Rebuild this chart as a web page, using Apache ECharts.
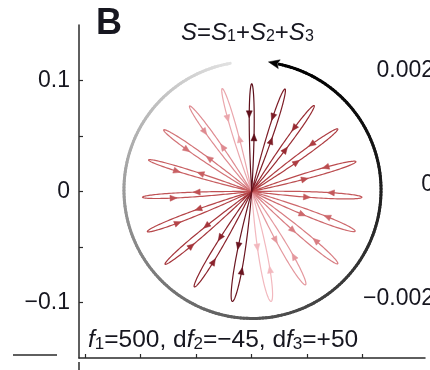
<!DOCTYPE html>
<html>
<head>
<meta charset="utf-8">
<script src="https://cdn.jsdelivr.net/npm/echarts@6/dist/echarts.min.js"></script>
<style>
  html, body { margin: 0; padding: 0; background: #fff; }
  #chart { width: 430px; height: 370px; }
</style>
</head>
<body>
<div id="chart"></div>
<script>
// Petal loops of S = S1+S2+S3, in the order they are traced (earliest first).
// Direction of each loop (deg), its reach from the origin and its widest width.
const petalAngles  = [280, 106, 300, 126, 320, 145, 339, 163, 357, 183, 16, 201, 36, 220, 54, 239, 72, 260, 90];
const petalLengths = [0.1005, 0.0965, 0.0970, 0.0952, 0.1012, 0.0968, 0.0998, 0.0972, 0.0994, 0.0985,
                      0.0976, 0.1007, 0.0958, 0.1019, 0.0957, 0.1003, 0.0971, 0.1005, 0.0970];
const petalWidths  = [0.0081, 0.0054, 0.0072, 0.0054, 0.0063, 0.0054, 0.0063, 0.0045, 0.0054, 0.0045,
                      0.0054, 0.0054, 0.0054, 0.0054, 0.0054, 0.0063, 0.0054, 0.0072, 0.0045];

// Envelope circle traced with the time arrow (start and end angle, deg)
const circleCenter = [0.0007, 0.0014];
const circleRadius = 0.1158;
const circleArcDeg = [100, 438];

// Axis ticks and labels
const xTicks = [-0.15, -0.1, -0.05, 0, 0.05, 0.1];
const yTicks = [-0.1, -0.05, 0, 0.05, 0.1];
const yLabels = [-0.1, 0, 0.1];
const rightLabels = [-0.002, 0, 0.002];

// ---- styles ----
const petalColors = ['#f2b8be', '#eaa6ac', '#e4989e', '#de8a90', '#d87d82', '#d27276', '#cd686c',
                     '#c85f62', '#c4585b', '#bf5255', '#bb4c4f', '#b54548', '#ae3d42', '#a5353b',
                     '#992c33', '#8a232c', '#7d1d27', '#6a1520', '#5e0f1a'];
const FONT = '"Liberation Sans", Arial, Helvetica, sans-serif';
const INK = '#16161f';
const AXIS = '#2a2a2a';

function fmt(v) {
  if (v === 0) return '0';
  return (v < 0 ? '\u2212' : '') + String(Math.abs(v));
}

// Outline of one loop: leaves the origin on one side, turns at the tip, returns on the other.
function petalPath(i, ox, oy) {
  const th = petalAngles[i] * Math.PI / 180;
  const ux = Math.cos(th), uy = Math.sin(th);
  const vx = -uy, vy = ux;
  const L = petalLengths[i];
  const hw = petalWidths[i] / 2 / 0.7698;
  return function (t) {
    const a = L * (1 - Math.cos(t)) / 2;
    const b = -hw * Math.sin(t) * Math.sqrt((1 - Math.cos(t)) / 2);
    return [ox + a * ux + b * vx, oy + a * uy + b * vy];
  };
}

function arrowHead(api, f, t, len, half, color) {
  const e = 1e-3;
  const p = api.coord(f(t));
  const p1 = api.coord(f(t - e)), p2 = api.coord(f(t + e));
  let dx = p2[0] - p1[0], dy = p2[1] - p1[1];
  const n = Math.hypot(dx, dy) || 1;
  dx /= n; dy /= n;
  const tip = [p[0] + dx * len * 0.55, p[1] + dy * len * 0.55];
  const bx = p[0] - dx * len * 0.45, by = p[1] - dy * len * 0.45;
  return {
    type: 'polygon',
    shape: { points: [tip, [bx - dy * half, by + dx * half], [bx + dy * half, by - dx * half]] },
    style: { fill: color, stroke: color, lineWidth: 0.5 }
  };
}

function renderPetal(params, api) {
  const i = api.value(2);
  const f = petalPath(i, api.value(0), api.value(1));
  const pts = [];
  const N = 140;
  for (let k = 0; k <= N; k++) pts.push(api.coord(f(2 * Math.PI * k / N)));
  const col = petalColors[i];
  return {
    type: 'group',
    children: [
      { type: 'polyline', shape: { points: pts }, style: { stroke: col, lineWidth: 1.2, fill: null } },
      arrowHead(api, f, Math.PI / 2, 7, 3, col),
      arrowHead(api, f, 2 * Math.PI - Math.acos(-0.44), 7, 3, col)
    ]
  };
}

function renderCircle(params, api) {
  const cx = api.value(0), cy = api.value(1);
  const a0 = circleArcDeg[0], a1 = circleArcDeg[1];
  const at = d => {
    const r = d * Math.PI / 180;
    return [cx + circleRadius * Math.cos(r), cy + circleRadius * Math.sin(r)];
  };
  const children = [];
  const N = 240;
  for (let k = 0; k < N; k++) {
    const d0 = a0 + (a1 - a0) * k / N, d1 = a0 + (a1 - a0) * (k + 1) / N;
    const fr = (k + 0.5) / N;
    const g = Math.round(226 * Math.pow(1 - fr, 1.35));
    const p0 = api.coord(at(d0)), p1 = api.coord(at(d1));
    children.push({
      type: 'line',
      shape: { x1: p0[0], y1: p0[1], x2: p1[0], y2: p1[1] },
      style: { stroke: 'rgb(' + g + ',' + g + ',' + g + ')', lineWidth: 3, lineCap: 'round' }
    });
  }
  // arrowhead at the end of the arc, pointing along the direction of travel
  const pe = api.coord(at(a1));
  const pb = api.coord(at(a1 - 0.5));
  let dx = pe[0] - pb[0], dy = pe[1] - pb[1];
  const n = Math.hypot(dx, dy);
  dx /= n; dy /= n;
  const tip = [pe[0] + dx * 11, pe[1] + dy * 11];
  const notch = [pe[0] + dx * 2, pe[1] + dy * 2];
  children.push({
    type: 'polygon',
    shape: { points: [tip, [pe[0] - dy * 4.5, pe[1] + dx * 4.5], notch, [pe[0] + dy * 4.5, pe[1] - dx * 4.5]] },
    style: { fill: '#000', stroke: '#000', lineWidth: 0.5 }
  });
  return { type: 'group', children: children };
}

const chart = echarts.init(document.getElementById('chart'), null, { renderer: 'canvas' });

const labelStyle = { fontSize: 23, color: INK, fontFamily: FONT };

chart.setOption({
  animation: false,
  backgroundColor: '#fff',
  grid: { left: 79, right: 5, top: 25, bottom: 12, containLabel: false, outerBoundsMode: 'none' },
  xAxis: {
    type: 'value', min: -0.1556, max: 0.1561,
    axisLine: { show: true, onZero: false, lineStyle: { color: AXIS, width: 1.5 } },
    axisTick: { show: true, inside: true, length: 4, customValues: xTicks, lineStyle: { color: AXIS, width: 1.2 } },
    axisLabel: { show: false },
    splitLine: { show: false }
  },
  yAxis: [
    {
      type: 'value', min: -0.15, max: 0.15,
      axisLine: { show: true, onZero: false, lineStyle: { color: AXIS, width: 1.5 } },
      axisTick: { show: true, inside: true, length: 4, customValues: yTicks, lineStyle: { color: AXIS, width: 1.2 } },
      axisLabel: Object.assign({ customValues: yLabels, formatter: fmt, margin: 9 }, labelStyle),
      splitLine: { show: false }
    },
    {
      type: 'value', position: 'right', offset: 14, min: -0.003035, max: 0.002807,
      axisLine: { show: false },
      axisTick: { show: false },
      axisLabel: Object.assign({ inside: true, customValues: rightLabels, formatter: fmt, margin: 5 }, labelStyle),
      splitLine: { show: false }
    }
  ],
  series: [
    {
      type: 'custom', coordinateSystem: 'cartesian2d', xAxisIndex: 0, yAxisIndex: 0,
      renderItem: renderCircle, clip: false,
      encode: { x: 0, y: 1 },
      data: [[circleCenter[0], circleCenter[1]]],
      silent: true, z: 1
    },
    {
      type: 'custom', coordinateSystem: 'cartesian2d', xAxisIndex: 0, yAxisIndex: 0,
      renderItem: renderPetal, clip: false,
      encode: { x: 0, y: 1 },
      data: petalAngles.map((_, i) => [0, 0, i]),
      silent: true, z: 2
    }
  ],
  graphic: [
    { type: 'text', x: 96, y: 24, style: { text: 'B', font: 'bold 36px ' + FONT, fill: INK, verticalAlign: 'middle' } },
    {
      type: 'text', x: 181, y: 32,
      style: {
        text: '{i|S}{n|=}{i|S}{s|1}{n|+}{i|S}{s|2}{n|+}{i|S}{s|3}',
        verticalAlign: 'middle', fill: INK, fontFamily: FONT,
        rich: {
          i: { fontSize: 24, fontStyle: 'italic', fontFamily: FONT, fill: INK, lineHeight: 26, verticalAlign: 'bottom' },
          n: { fontSize: 24, fontFamily: FONT, fill: INK, lineHeight: 26, verticalAlign: 'bottom' },
          s: { fontSize: 16, fontFamily: FONT, fill: INK, lineHeight: 14, verticalAlign: 'bottom' }
        }
      }
    },
    {
      type: 'text', x: 88, y: 340,
      style: {
        text: '{i|f}{s|1}{n|=500, d}{i|f}{s|2}{n|=\u221245, d}{i|f}{s|3}{n|=+50}',
        verticalAlign: 'middle', fill: INK, fontFamily: FONT,
        rich: {
          i: { fontSize: 24.5, fontStyle: 'italic', fontFamily: FONT, fill: INK, lineHeight: 26, verticalAlign: 'bottom' },
          n: { fontSize: 24.5, fontFamily: FONT, fill: INK, lineHeight: 26, verticalAlign: 'bottom' },
          s: { fontSize: 17, fontFamily: FONT, fill: INK, lineHeight: 14, verticalAlign: 'bottom' }
        }
      }
    },
    // edges of the neighbouring panel
    { type: 'line', shape: { x1: 13, y1: 355, x2: 57, y2: 355 }, style: { stroke: AXIS, lineWidth: 1.5 } },
    { type: 'line', shape: { x1: 79, y1: 362, x2: 79, y2: 370 }, style: { stroke: AXIS, lineWidth: 1.5 } }
  ]
});
</script>
</body>
</html>
